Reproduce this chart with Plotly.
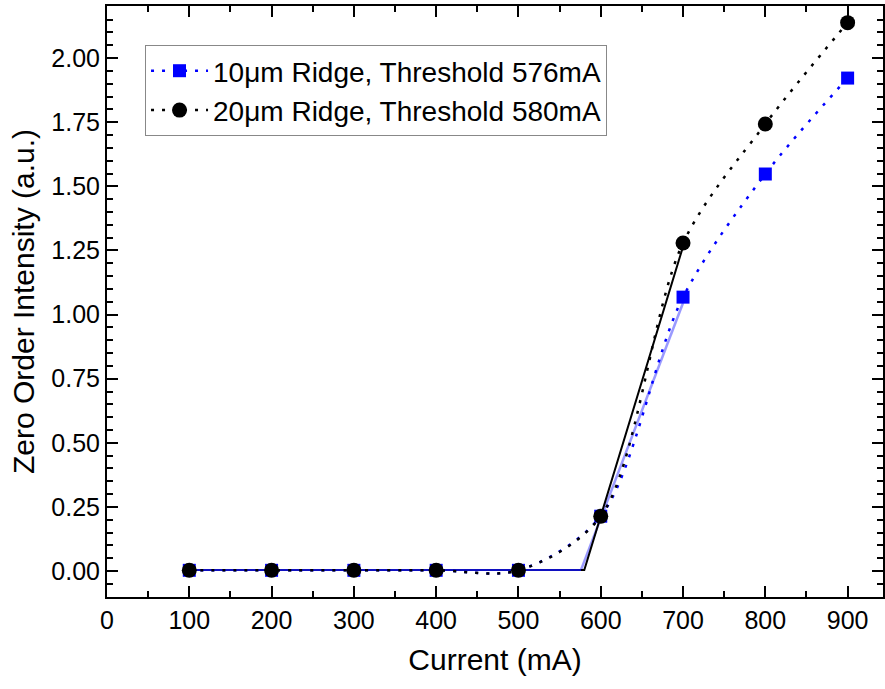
import plotly.graph_objects as go

# measured points
current = [100, 200, 300, 400, 500, 600, 700, 800, 900]
ridge10 = [0.003, 0.003, 0.003, 0.003, 0.003, 0.214, 1.068, 1.548, 1.922]
ridge20 = [0.003, 0.003, 0.003, 0.003, 0.003, 0.214, 1.279, 1.743, 2.138]

# threshold fits
fit10_flat_x = [100, 576]
fit10_flat_y = [0.004, 0.004]
fit10_rise_x = [576, 700]
fit10_rise_y = [0.004, 1.045]
fit20_x = [100, 580, 700]
fit20_y = [0.004, 0.004, 1.265]

y_ticks = [0, 0.25, 0.5, 0.75, 1.0, 1.25, 1.5, 1.75, 2.0]

FONT = "Liberation Sans, Arial, sans-serif"

fig = go.Figure()

fig.add_trace(go.Scatter(x=fit10_rise_x, y=fit10_rise_y, mode='lines', showlegend=False,
                         line=dict(color='rgba(120,120,255,0.75)', width=2.5)))
fig.add_trace(go.Scatter(x=fit20_x, y=fit20_y, mode='lines', showlegend=False,
                         line=dict(color='black', width=2)))
fig.add_trace(go.Scatter(x=fit10_flat_x, y=fit10_flat_y, mode='lines', showlegend=False,
                         line=dict(color='#1010c0', width=2)))

fig.add_trace(go.Scatter(x=current, y=ridge10, mode='lines+markers',
                         name='10\u03bcm Ridge, Threshold 576mA',
                         line=dict(color='#0000ff', width=2.5, dash='3px,8px', shape='spline', smoothing=0.9),
                         marker=dict(symbol='square', size=13, color='#0000ff')))
fig.add_trace(go.Scatter(x=current, y=ridge20, mode='lines+markers',
                         name='20\u03bcm Ridge, Threshold 580mA',
                         line=dict(color='black', width=2.5, dash='3px,8px', shape='spline', smoothing=0.9),
                         marker=dict(symbol='circle', size=15, color='black')))

axis_common = dict(
    showline=True, linecolor='black', linewidth=2, mirror='allticks',
    ticks='inside', ticklen=11, tickwidth=2, tickcolor='black',
    showgrid=False, zeroline=False, automargin=False,
    tickfont=dict(family=FONT, size=25, color='black'),
)

fig.update_xaxes(
    range=[0, 943], tickvals=[0, 100, 200, 300, 400, 500, 600, 700, 800, 900],
    minor=dict(dtick=50, tick0=0, ticks='inside', ticklen=6, tickwidth=2, tickcolor='black'),
    title=dict(text='Current (mA)', font=dict(family=FONT, size=30, color='black'), standoff=16),
    **axis_common)
fig.update_yaxes(
    range=[-0.101, 2.203], tickvals=y_ticks, tickformat='.2f',
    minor=dict(dtick=0.05, tick0=0, ticks='inside', ticklen=6, tickwidth=2, tickcolor='black'),
    title=dict(text='Zero Order Intensity (a.u.)', font=dict(family=FONT, size=30, color='black'), standoff=8),
    **axis_common)

fig.update_layout(
    width=885, height=689,
    margin=dict(l=107, r=2, t=6, b=92),
    plot_bgcolor='white', paper_bgcolor='white',
    legend=dict(x=0.049, y=0.934, xanchor='left', yanchor='top',
                bgcolor='white', bordercolor='#888888', borderwidth=1,
                font=dict(family=FONT, size=28, color='black'),
                itemwidth=57, tracegroupgap=0),
)

fig.write_html("out.html", config={'displayModeBar': False},
               post_script="document.body.style.margin='0';")
